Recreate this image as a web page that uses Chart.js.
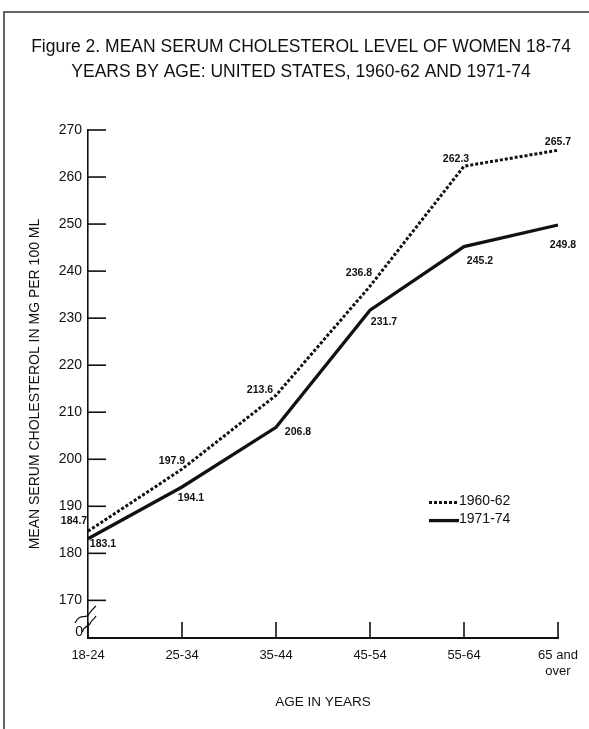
<!DOCTYPE html>
<html>
<head>
<meta charset="utf-8">
<script src="https://cdn.jsdelivr.net/npm/chart.js@4/dist/chart.umd.min.js"></script>
<style>
    body { margin: 0; background: #fff; }
    canvas { display: block; }
</style>
</head>
<body>
<canvas id="cholesterolChart" width="589" height="729"></canvas>
<script>
// Data
const ageGroups = ['18-24', '25-34', '35-44', '45-54', '55-64', ['65 and', 'over']];
const values1960 = [184.7, 197.9, 213.6, 236.8, 262.3, 265.7];
const values1971 = [183.1, 194.1, 206.8, 231.7, 245.2, 249.8];
const yTickValues = [170, 180, 190, 200, 210, 220, 230, 240, 250, 260, 270];
const seriesLabels = ['1960-62', '1971-74'];
const titleLines = [
    'Figure 2. MEAN SERUM CHOLESTEROL LEVEL OF WOMEN 18-74',
    'YEARS BY AGE: UNITED STATES, 1960-62 AND 1971-74'
];

const FONT = '"Liberation Sans", Arial, Helvetica, sans-serif';
const INK = '#111';

// label placement next to each point (dx, dy in px)
const labelOffsets = [
    [[-14, -10], [-10, -8], [-16, -5], [-11, -13], [-8, -7], [0, -8]],
    [[15, 5], [9, 11], [22, 5], [14, 12], [16, 14], [5, 20]]
];

const decorPlugin = {
    id: 'decor',
    afterDraw(chart) {
        const { ctx, chartArea } = chart;
        const x = chart.scales.x;
        const y = chart.scales.y;

        const line = (x1, y1, x2, y2) => {
            ctx.beginPath();
            ctx.moveTo(x1, y1);
            ctx.lineTo(x2, y2);
            ctx.stroke();
        };

        ctx.save();

        // frame of the scanned page
        ctx.strokeStyle = '#333';
        ctx.lineWidth = 1.5;
        ctx.beginPath();
        ctx.moveTo(4, chart.height);
        ctx.lineTo(4, 12);
        ctx.lineTo(chart.width, 12);
        ctx.stroke();

        // title, centred on the page frame
        ctx.fillStyle = INK;
        ctx.font = `17.5px ${FONT}`;
        ctx.textAlign = 'center';
        ctx.textBaseline = 'middle';
        titleLines.forEach((t, i) => {
            ctx.fillText(t, 301, 47 + i * 25);
        });

        // tick marks pointing into the plot
        ctx.strokeStyle = INK;
        ctx.lineWidth = 1.6;
        yTickValues.forEach(v => {
            const py = y.getPixelForValue(v);
            line(chartArea.left, py, chartArea.left + 18, py);
        });
        ageGroups.forEach((_, i) => {
            const px = x.getPixelForValue(i);
            line(px, chartArea.bottom, px, chartArea.bottom - 16);
        });

        // axis break and the "0"
        const ax = chartArea.left;
        const yb = chartArea.bottom;
        ctx.lineWidth = 1.2;
        ctx.beginPath();
        ctx.moveTo(ax - 13, yb - 15);
        ctx.bezierCurveTo(ax - 8, yb - 26, ax - 2, yb - 18, ax + 1, yb - 24);
        ctx.bezierCurveTo(ax + 3, yb - 28, ax + 6, yb - 30, ax + 8, yb - 32);
        ctx.stroke();
        ctx.beginPath();
        ctx.moveTo(ax - 6, yb - 6);
        ctx.bezierCurveTo(ax - 3, yb - 14, ax + 1, yb - 10, ax + 3, yb - 16);
        ctx.bezierCurveTo(ax + 5, yb - 19, ax + 7, yb - 20, ax + 8, yb - 22);
        ctx.stroke();
        ctx.font = `14px ${FONT}`;
        ctx.textAlign = 'right';
        ctx.fillText('0', ax - 5, yb - 6);

        // value labels
        ctx.font = `bold 10.5px ${FONT}`;
        ctx.textAlign = 'center';
        chart.data.datasets.forEach((ds, di) => {
            const meta = chart.getDatasetMeta(di);
            meta.data.forEach((pt, i) => {
                const [dx, dy] = labelOffsets[di][i];
                ctx.fillText(ds.data[i].toFixed(1), pt.x + dx, pt.y + dy);
            });
        });

        // legend
        const lx = chartArea.right - 129;
        const ly = y.getPixelForValue(191);
        ctx.font = `14px ${FONT}`;
        ctx.textAlign = 'left';
        chart.data.datasets.forEach((ds, di) => {
            const rowY = ly + di * 18;
            ctx.lineWidth = ds.borderWidth;
            ctx.setLineDash(ds.borderDash || []);
            line(lx, rowY + 1, lx + 30, rowY + 1);
            ctx.setLineDash([]);
            ctx.fillText(ds.label, lx + 30, rowY);
        });

        ctx.restore();
    }
};

const ctx = document.getElementById('cholesterolChart').getContext('2d');

new Chart(ctx, {
    type: 'line',
    data: {
        labels: ageGroups,
        datasets: [
            {
                label: seriesLabels[0],
                data: values1960,
                borderColor: INK,
                borderWidth: 3,
                borderDash: [3, 2],
                pointRadius: 0,
                tension: 0,
                fill: false
            },
            {
                label: seriesLabels[1],
                data: values1971,
                borderColor: INK,
                borderWidth: 3.3,
                pointRadius: 0,
                tension: 0,
                fill: false
            }
        ]
    },
    options: {
        responsive: false,
        animation: false,
        layout: {
            padding: { left: 0, right: 31, top: 130, bottom: 0 }
        },
        plugins: {
            legend: { display: false },
            tooltip: { enabled: false },
            title: { display: false }
        },
        scales: {
            x: {
                offset: false,
                grid: { display: false, drawTicks: false },
                border: { display: true, color: INK, width: 2 },
                ticks: {
                    color: INK,
                    padding: 10,
                    maxRotation: 0,
                    autoSkip: false,
                    font: { family: FONT, size: 13 }
                },
                title: {
                    display: true,
                    text: 'AGE IN YEARS',
                    color: INK,
                    font: { family: FONT, size: 13.5 },
                    padding: { top: 0, bottom: 19 }
                },
                afterFit: (scale) => { scale.height = 91; }
            },
            y: {
                min: 162,
                max: 270,
                grid: { display: false, drawTicks: false },
                border: { display: true, color: INK, width: 1.6 },
                afterBuildTicks: (scale) => {
                    scale.ticks = yTickValues.map(v => ({ value: v }));
                },
                ticks: {
                    color: INK,
                    padding: 6,
                    font: { family: FONT, size: 14 }
                },
                title: {
                    display: true,
                    text: 'MEAN SERUM CHOLESTEROL IN MG PER 100 ML',
                    color: INK,
                    font: { family: FONT, size: 14 },
                    padding: { top: 27, bottom: 0 }
                },
                afterFit: (scale) => { scale.width = 88; }
            }
        }
    },
    plugins: [decorPlugin]
});
</script>
</body>
</html>
